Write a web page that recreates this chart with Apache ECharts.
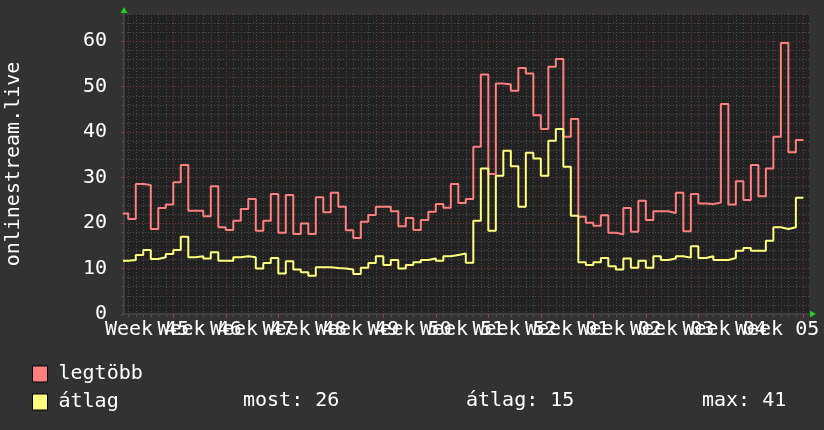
<!DOCTYPE html>
<html>
<head>
<meta charset="utf-8">
<script src="https://cdn.jsdelivr.net/npm/echarts@6/dist/echarts.min.js"></script>
<style>
  html, body { margin: 0; padding: 0; background: #323232; }
  #chart { width: 824px; height: 430px; }
</style>
</head>
<body>
<div id="chart"></div>
<script>
// daily values, day 0 = first day of week 45
const legtobb = [
  22.1, 20.9, 28.6, 28.4, 18.7, 23.3, 24.1, 29.0, 32.8, 22.7,
  22.7, 21.5, 28.1, 19.1, 18.5, 20.5, 23.1, 25.3, 18.3, 20.5,
  26.4, 17.9, 26.2, 17.6, 19.9, 17.6, 25.7, 22.4, 26.7, 23.6,
  18.4, 16.7, 20.3, 21.8, 23.6, 23.6, 22.6, 19.3, 21.1, 18.5,
  20.7, 22.5, 24.2, 23.4, 28.6, 24.4, 25.3, 36.8, 52.7, 30.8,
  50.7, 50.5, 49.1, 54.1, 52.9, 43.7, 40.7, 54.4, 56.1, 39.0,
  42.9, 21.4, 20.1, 19.4, 21.7, 17.9, 17.5, 23.3, 18.1, 24.9,
  20.7, 22.6, 22.6, 22.2, 26.7, 18.2, 26.4, 24.3, 24.2, 24.5,
  46.2, 24.1, 29.2, 25.1, 32.8, 25.9, 32.0, 39.0, 59.6, 35.6,
  38.3
];
const atlag = [
  11.7, 11.9, 13.0, 14.1, 12.1, 12.5, 13.2, 14.1, 17.0, 12.5,
  12.7, 12.2, 13.6, 11.7, 11.7, 12.5, 12.7, 12.5, 10.0, 11.2,
  12.3, 8.9, 11.6, 9.8, 9.2, 8.4, 10.3, 10.3, 10.1, 10.0,
  9.8, 8.8, 10.2, 11.2, 12.7, 10.8, 11.9, 10.0, 10.8, 11.4,
  11.9, 12.2, 11.7, 12.7, 13.0, 13.3, 11.3, 20.5, 32.0, 18.3,
  30.4, 35.9, 32.5, 23.6, 35.5, 34.2, 30.4, 38.1, 40.7, 32.4,
  21.6, 11.4, 10.8, 11.4, 12.3, 10.5, 9.8, 12.2, 10.2, 11.7,
  10.2, 12.7, 11.9, 12.2, 12.7, 12.4, 14.9, 12.3, 12.7, 11.9,
  11.9, 12.3, 13.9, 14.5, 13.9, 13.9, 16.1, 19.1, 18.7, 19.1,
  25.6
];
const weekNums = ['45', '46', '47', '48', '49', '50', '51', '52', '01', '02', '03', '04', '05'];
const yTicks = [0, 10, 20, 30, 40, 50, 60];

const font = 'DejaVu Sans Mono';
const red = '#ff7f7f';
const yellow = '#ffff7f';
const xMin = 0.43, xMax = 91.75;

const weekBounds = weekNums.map((_, i) => (i + 1) * 7);
const weekMids = weekNums.map((_, i) => i * 7 + 3.5);
// labels overlap, so split them over two axes to keep all of them drawn
const midsEven = weekMids.filter((_, i) => i % 2 === 0);
const midsOdd = weekMids.filter((_, i) => i % 2 === 1);
const dayBounds = [];
for (let d = 1; d <= legtobb.length; d++) dayBounds.push(d);

// step data: each value holds for its day
function steps(arr) {
  const pts = arr.map((v, i) => [i, v]);
  pts.push([arr.length, arr[arr.length - 1]]);
  return pts;
}

const most = Math.round(atlag[atlag.length - 1]);
const avg = Math.round(atlag.reduce((a, b) => a + b, 0) / atlag.length);
const mx = Math.round(Math.max(...atlag));

const chart = echarts.init(document.getElementById('chart'), null, { renderer: 'canvas' });

const minorLine = { color: '#4a4a4a', type: [1, 2] };
const majorLine = { color: '#7a3434', type: [1, 2] };
const arrow = { color: '#22cc22', width: 1 };
const weekLabel = {
  formatter: v => 'Week ' + weekNums[Math.floor(v / 7)],
  color: '#fff', fontFamily: font, fontSize: 20, margin: 6,
  hideOverlap: false, showMinLabel: true, showMaxLabel: true
};

const option = {
  backgroundColor: '#323232',
  animation: false,
  grid: {
    left: 124, right: 15, top: 14, bottom: 116,
    outerBoundsMode: 'none', containLabel: false,
    show: true, backgroundColor: '#222222', borderWidth: 0
  },
  legend: {
    data: ['legtöbb', 'átlag'],
    orient: 'vertical',
    left: 27, top: 359,
    icon: 'rect',
    itemWidth: 15, itemHeight: 16, itemGap: 8,
    selectedMode: false,
    itemStyle: { borderColor: '#000', borderWidth: 1 },
    textStyle: { color: '#fff', fontFamily: font, fontSize: 20, lineHeight: 20, padding: [0, 0, 0, 6] }
  },
  graphic: [
    { type: 'text', left: 243, top: 391, style: { text: 'most: ' + most, fill: '#fff', font: '20px ' + font } },
    { type: 'text', left: 466, top: 391, style: { text: 'átlag: ' + avg, fill: '#fff', font: '20px ' + font } },
    { type: 'text', left: 702, top: 391, style: { text: 'max: ' + mx, fill: '#fff', font: '20px ' + font } }
  ],
  xAxis: [
    {
      type: 'value', min: xMin, max: xMax, position: 'bottom', z: 0,
      axisLine: { show: true, lineStyle: arrow, symbol: ['none', 'triangle'], symbolSize: [7, 6], symbolOffset: [0, 4] },
      axisTick: { show: true, customValues: dayBounds, length: 3, lineStyle: { color: '#555' } },
      axisLabel: Object.assign({ customValues: midsOdd }, weekLabel),
      splitLine: { show: true, lineStyle: minorLine }
    },
    {
      type: 'value', min: xMin, max: xMax, position: 'bottom', z: 1,
      axisLine: { show: true, lineStyle: { color: '#404040', width: 2 } },
      axisTick: { show: true, customValues: weekBounds, length: 4, lineStyle: { color: '#9b3b3b' } },
      axisLabel: Object.assign({ customValues: midsEven }, weekLabel),
      splitLine: { show: true, lineStyle: majorLine }
    }
  ],
  yAxis: [
    {
      type: 'value', min: 0, max: 66, interval: 2, position: 'left', z: 0,
      axisLine: { show: true, lineStyle: arrow, symbol: ['none', 'triangle'], symbolSize: [7, 6], symbolOffset: [0, 4] },
      axisTick: { show: true, length: 2, lineStyle: { color: '#555' } },
      axisLabel: { show: false },
      splitLine: { show: true, lineStyle: minorLine }
    },
    {
      type: 'value', min: 0, max: 66, position: 'left', z: 1,
      name: 'onlinestream.live', nameLocation: 'middle', nameGap: 100,
      nameTextStyle: { color: '#fff', fontFamily: font, fontSize: 20 },
      axisLine: { show: true, lineStyle: { color: '#404040', width: 2 } },
      axisTick: { show: true, customValues: yTicks, length: 3, lineStyle: { color: '#9b3b3b' } },
      axisLabel: { customValues: yTicks, color: '#fff', fontFamily: font, fontSize: 20, margin: 17 },
      splitLine: { show: true, lineStyle: majorLine }
    }
  ],
  series: [
    {
      name: 'legtöbb', type: 'line', step: 'end', xAxisIndex: 1, yAxisIndex: 1,
      showSymbol: false, color: red, lineStyle: { color: red, width: 2 },
      data: steps(legtobb)
    },
    {
      name: 'átlag', type: 'line', step: 'end', xAxisIndex: 1, yAxisIndex: 1,
      showSymbol: false, color: yellow, lineStyle: { color: yellow, width: 2 },
      data: steps(atlag)
    }
  ]
};

chart.setOption(option);
</script>
</body>
</html>
